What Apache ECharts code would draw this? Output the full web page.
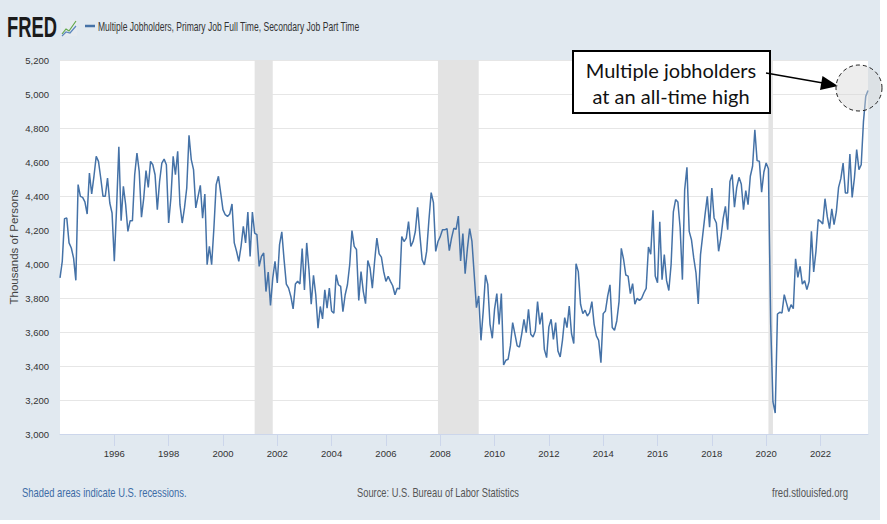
<!DOCTYPE html>
<html>
<head>
<meta charset="utf-8">
<script src="https://cdn.jsdelivr.net/npm/echarts/dist/echarts.min.js"></script>
<style>
html,body{margin:0;padding:0;background:#fff;}
#chart{width:887px;height:524px;background:linear-gradient(#e1e9f0,#e1e9f0) no-repeat 0 0/880px 520px,#ffffff;}
</style>
</head>
<body>
<div id="chart"></div>
<script>
// ---------- data ----------
const seriesName = 'Multiple Jobholders, Primary Job Full Time, Secondary Job Part Time';
const startYear = 1994; // monthly values from January 1994
const values = [
  3918, 4016, 4267, 4270, 4124, 4094, 4035, 3904, 4467, 4398, 4392, 4365, // 1994
  4294, 4535, 4412, 4516, 4633, 4604, 4506, 4398, 4398, 4506, 4359, 4300, // 1995
  4016, 4330, 4690, 4255, 4457, 4350, 4192, 4255, 4255, 4525, 4653, 4545, // 1996
  4275, 4388, 4549, 4451, 4604, 4584, 4525, 4320, 4486, 4594, 4617, 4584, // 1997
  4241, 4388, 4633, 4525, 4663, 4349, 4241, 4330, 4447, 4757, 4614, 4555, // 1998
  4330, 4398, 4463, 4270, 4412, 3996, 4104, 3996, 4212, 4467, 4516, 4418, // 1999
  4320, 4290, 4280, 4294, 4353, 4124, 4075, 4016, 4104, 4222, 4124, 4306, // 2000
  4045, 4306, 4182, 4173, 3986, 4045, 4065, 3838, 3953, 3756, 3917, 4016, // 2001
  3888, 4114, 4189, 4026, 3882, 3858, 3809, 3736, 3882, 3898, 3882, 4091, // 2002
  3848, 4124, 3967, 3764, 3933, 3819, 3622, 3750, 3677, 3848, 3740, 3858, // 2003
  3724, 3710, 3937, 3878, 3868, 3720, 3819, 3878, 3996, 4197, 4104, 4085, // 2004
  3786, 3956, 3839, 3767, 4021, 3976, 3858, 4015, 4152, 4060, 4040, 3956, // 2005
  3898, 3927, 3898, 3872, 3819, 3858, 3853, 4161, 4132, 4152, 4249, 4103, // 2006
  4132, 4191, 4334, 4171, 4025, 3995, 4074, 4259, 4420, 4361, 4074, 4132, // 2007
  4161, 4201, 4201, 4208, 4079, 4152, 4210, 4204, 4282, 4018, 4179, 3943, // 2008
  4090, 4208, 4135, 3940, 3743, 3812, 3551, 3724, 3935, 3880, 3645, 3563, // 2009
  3734, 3826, 3645, 3826, 3406, 3434, 3440, 3518, 3655, 3587, 3518, 3512, // 2010
  3587, 3675, 3596, 3734, 3587, 3571, 3606, 3779, 3645, 3714, 3498, 3449, // 2011
  3630, 3675, 3557, 3655, 3489, 3453, 3551, 3685, 3626, 3753, 3591, 3532, // 2012
  4002, 3955, 3763, 3708, 3728, 3694, 3714, 3779, 3645, 3577, 3551, 3420, // 2013
  3708, 3724, 3812, 3877, 3626, 3610, 3665, 3779, 4092, 4028, 3935, 3929, // 2014
  3826, 3885, 3763, 3798, 3786, 3798, 3831, 3857, 4100, 4057, 4316, 3929, // 2015
  3890, 4249, 3908, 4055, 3902, 3844, 3996, 4306, 4379, 4365, 4212, 3908, // 2016
  4437, 4569, 4192, 4143, 4036, 3947, 3765, 4055, 4173, 4290, 4398, 4216, // 2017
  4447, 4271, 4241, 4075, 4153, 4267, 4339, 4202, 4486, 4526, 4334, 4451, // 2018
  4510, 4471, 4320, 4432, 4349, 4516, 4575, 4790, 4608, 4604, 4423, 4541, // 2019
  4594, 4560, 3650, 3190, 3123, 3706, 3716, 3712, 3820, 3770, 3721, 3761, // 2020
  3737, 4031, 3921, 3986, 3882, 3902, 3849, 3898, 4192, 3953, 4074, 4261, // 2021
  4251, 4235, 4384, 4280, 4208, 4325, 4231, 4306, 4451, 4502, 4594, 4418, // 2022
  4418, 4647, 4392, 4506, 4673, 4555, 4584, 4839, 4986, 5020              // 2023
];
const recessions = [['2001-03', '2001-11'], ['2007-12', '2009-06'], ['2020-02', '2020-04']];
const xTickYears = [1996, 1998, 2000, 2002, 2004, 2006, 2008, 2010, 2012, 2014, 2016, 2018, 2020, 2022];
const yMin = 3000, yMax = 5200, yStep = 200;
const yAxisTitle = 'Thousands of Persons';
const footerLeft = 'Shaded areas indicate U.S. recessions.';
const footerCenter = 'Source: U.S. Bureau of Labor Statistics';
const footerRight = 'fred.stlouisfed.org';
const logoText = 'FRED';
const noteLines = ['Multiple jobholders', 'at an all-time high'];

// ---------- build ----------
const months = values.map((v, i) => {
  const y = startYear + Math.floor(i / 12);
  const m = (i % 12) + 1;
  return y + '-' + String(m).padStart(2, '0');
});
const tickSet = new Set(xTickYears.map(y => y + '-01'));
const showTick = (idx, val) => tickSet.has(val);

const SANS = '"Liberation Sans", Arial, Helvetica, sans-serif';
const HAND = 'Lato, "Noto Sans", sans-serif';

// horizontal squeeze so that condensed reference texts keep their width
const ctx = document.createElement('canvas').getContext('2d');
function squeeze(text, font, width) {
  ctx.font = font;
  const w = ctx.measureText(text).width;
  return w > 0 ? Math.min(1, width / w) : 1;
}
function squeezedText(text, font, x, y, width, fill, align) {
  return {
    type: 'text', x: x, y: y, scaleX: squeeze(text, font, width), scaleY: 1,
    style: {text: text, font: font, fill: fill, textAlign: align || 'left', textVerticalAlign: 'middle'}
  };
}

const titleFont = '13px ' + SANS;
const logoFont = 'bold 30px ' + SANS;
const footFont = '12px ' + SANS;

const chart = echarts.init(document.getElementById('chart'), null, {renderer: 'svg'});
chart.setOption({
  animation: false,
  backgroundColor: 'transparent',
  textStyle: {fontFamily: SANS},
  grid: {left: 60, right: 19, top: 60, bottom: 90, show: true, backgroundColor: '#ffffff', borderWidth: 0,
         containLabel: false, outerBoundsMode: 'none'},
  xAxis: {
    type: 'category', data: months, boundaryGap: false,
    axisLine: {lineStyle: {color: '#ccd6eb', width: 1}},
    axisTick: {show: true, length: 12, interval: showTick, lineStyle: {color: '#ccd6eb'}},
    axisLabel: {interval: showTick, formatter: v => v.slice(0, 4), margin: 14, fontSize: 9.5, color: '#333333', fontFamily: SANS},
    splitLine: {show: false}
  },
  yAxis: {
    type: 'value', min: yMin, max: yMax, interval: yStep,
    axisLine: {show: false}, axisTick: {show: false},
    axisLabel: {formatter: v => v.toLocaleString('en-US'), fontSize: 9.5, color: '#333333', margin: 11, fontFamily: SANS},
    splitLine: {lineStyle: {color: '#e6e6e6', width: 1}},
    name: yAxisTitle, nameLocation: 'middle', nameGap: 40, nameMoveOverlap: false,
    nameTextStyle: {fontSize: 11.5, color: '#444444', fontFamily: SANS}
  },
  series: [{
    type: 'line', name: seriesName, data: values,
    symbol: 'none', showSymbol: false,
    lineStyle: {color: '#4572a7', width: 1.5},
    itemStyle: {color: '#4572a7'},
    markArea: {
      silent: true,
      itemStyle: {color: '#e3e3e3'},
      data: recessions.map(r => [{xAxis: r[0]}, {xAxis: r[1]}])
    }
  }],
  graphic: [
    squeezedText(logoText, logoFont, 7, 26, 50, '#1b1b1b', 'left'),
    {type: 'rect', shape: {x: 61, y: 20, width: 16, height: 16}, style: {fill: '#e6ebf0'}},
    {type: 'polyline', shape: {points: [[62, 34], [66, 29], [69, 31], [76, 21]]}, style: {stroke: '#63a84a', lineWidth: 1.2, fill: null}},
    {type: 'polyline', shape: {points: [[62, 36], [66, 32], [70, 33], [76, 26]]}, style: {stroke: '#5b86bd', lineWidth: 1.2, fill: null}},
    // legend
    {type: 'line', shape: {x1: 85, y1: 26, x2: 95, y2: 26}, style: {stroke: '#4572a7', lineWidth: 2.5}},
    squeezedText(seriesName, titleFont, 98, 26, 262, '#333333', 'left'),
    // footer
    squeezedText(footerLeft, footFont, 22, 493, 165, '#3d6ca6', 'left'),
    squeezedText(footerCenter, footFont, 438, 493, 162, '#555555', 'center'),
    squeezedText(footerRight, footFont, 848, 493, 76, '#555555', 'right'),
    // annotation
    {type: 'rect', z: 100, shape: {x: 573, y: 51, width: 197, height: 62}, style: {fill: '#ffffff', stroke: '#000000', lineWidth: 2}},
    {type: 'text', z: 101, x: 671, y: 70, style: {text: noteLines[0], font: '20px ' + HAND, fill: '#111111', textAlign: 'center', textVerticalAlign: 'middle'}},
    {type: 'text', z: 101, x: 671, y: 96, style: {text: noteLines[1], font: '20px ' + HAND, fill: '#111111', textAlign: 'center', textVerticalAlign: 'middle'}},
    {type: 'line', z: 100, shape: {x1: 766, y1: 73, x2: 823, y2: 83}, style: {stroke: '#000000', lineWidth: 1.3}},
    {type: 'polygon', z: 100, shape: {points: [[838, 86], [822.5, 76], [820, 90]]}, style: {fill: '#000000'}},
    {type: 'circle', z: 100, shape: {cx: 859, cy: 88, r: 23}, style: {fill: 'rgba(215,215,215,0.45)', stroke: '#222222', lineWidth: 1, lineDash: [4, 3]}}
  ]
});
</script>
</body>
</html>
